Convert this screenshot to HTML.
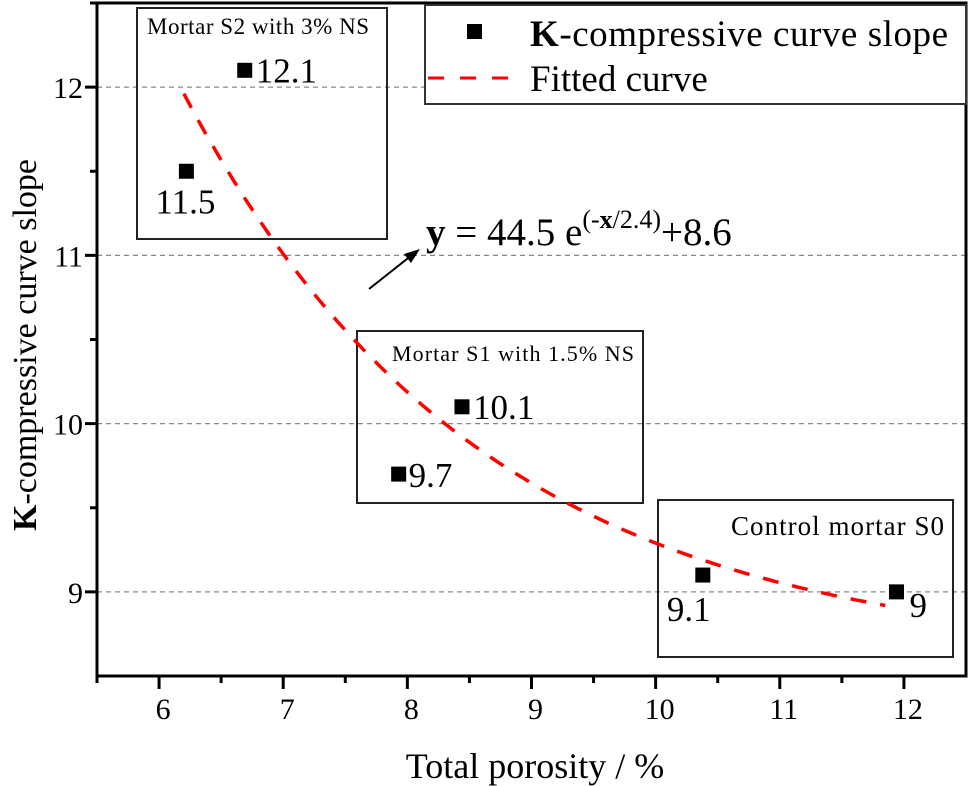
<!DOCTYPE html>
<html><head><meta charset="utf-8"><style>
body{margin:0;background:#fff}
svg{display:block;font-family:"Liberation Serif",serif}
</style></head><body>
<svg id="chart" width="972" height="786" viewBox="0 0 972 786" xmlns="http://www.w3.org/2000/svg">
<g id="grid"></g>
<g id="axes"></g>
<g id="annot">
  <rect x="137" y="8" width="250" height="231" fill="none" stroke="#222" stroke-width="2"/>
  <text x="147" y="34" font-size="23" textLength="222">Mortar S2 with 3% NS</text>
  <rect x="357" y="331" width="286" height="172" fill="none" stroke="#222" stroke-width="2"/>
  <text x="392" y="361" font-size="22" textLength="242">Mortar S1 with 1.5% NS</text>
  <rect x="658" y="500" width="295" height="157" fill="none" stroke="#222" stroke-width="2"/>
  <text x="731" y="535" font-size="27" textLength="213">Control mortar S0</text>
  <line x1="369" y1="289" x2="412" y2="255" stroke="#000" stroke-width="2"/>
  <polygon points="420,249 404,254 411,263" fill="#000"/>
  <text x="426" y="245" font-size="39"><tspan font-weight="bold">y</tspan> = 44.5 e<tspan dy="-17" font-size="26">(-<tspan font-weight="bold">x</tspan>/2.4)</tspan><tspan dy="17">+8.6</tspan></text>
</g>
<g id="series"></g>
<g>
  <rect x="425" y="5" width="541" height="99" fill="#fff" stroke="#333" stroke-width="2"/>
  <rect x="467" y="24" width="15" height="15" fill="#000"/>
  <text x="530" y="46" font-size="37" textLength="418"><tspan font-weight="bold">K</tspan>-compressive curve slope</text>
  <line x1="428" y1="78" x2="513" y2="78" stroke="#f00" stroke-width="3" stroke-dasharray="16,16"/>
  <text x="530" y="91" font-size="37">Fitted curve</text>
</g>
<text x="535" y="778" font-size="36" text-anchor="middle">Total porosity / %</text>
<text transform="translate(36,345) rotate(-90)" font-size="34" text-anchor="middle"><tspan font-weight="bold">K</tspan>-compressive curve slope</text>
</svg>
<script>
const xValues=[6.22,6.69,7.93,8.44,10.38,11.94];
const yValues=[11.5,12.1,9.7,10.1,9.1,9.0];
const pointLabels=["11.5","12.1","9.7","10.1","9.1","9"];
const xTicks=[6,7,8,9,10,11,12];
const yTicks=[9,10,11,12];
const fitA=44.5, fitB=2.4, fitC=8.6, fitStart=6.2, fitEnd=11.85;
const NS="http://www.w3.org/2000/svg";
const X0=97,X1=966,Y0=676,Y1=3,xmin=5.5,xmax=12.5,ymin=8.5,ymax=12.5;
const sx=v=>X0+(v-xmin)/(xmax-xmin)*(X1-X0);
const sy=v=>Y0-(v-ymin)/(ymax-ymin)*(Y0-Y1);
function mk(tag,attrs,parent){const e=document.createElementNS(NS,tag);for(const k in attrs)e.setAttribute(k,attrs[k]);parent.appendChild(e);return e;}
const grid=document.getElementById('grid'),axes=document.getElementById('axes'),series=document.getElementById('series');
yTicks.forEach(t=>{const l=mk('line',{x1:X0,x2:X1,y1:sy(t),y2:sy(t),stroke:'#888','stroke-width':1.3,'stroke-dasharray':'5,4'},grid);

});
const fr=mk('rect',{x:X0,y:Y1,width:X1-X0,height:Y0-Y1,fill:'none',stroke:'#000','stroke-width':3},axes);


xTicks.forEach(t=>{const x=sx(t);
const tk=mk('line',{x1:x,x2:x,y1:Y0,y2:Y0+13,stroke:'#000','stroke-width':3},axes);


const m=mk('line',{x1:sx(t-0.5),x2:sx(t-0.5),y1:Y0,y2:Y0+7,stroke:'#000','stroke-width':3},axes);


const tx=mk('text',{x:x+4,y:Y0+43,'font-size':30,'text-anchor':'middle'},axes);tx.textContent=t;

});
yTicks.forEach(t=>{const y=sy(t);
const tk=mk('line',{x1:X0-12,x2:X0,y1:y,y2:y,stroke:'#000','stroke-width':3},axes);


const m=mk('line',{x1:X0-7,x2:X0,y1:sy(t+0.5),y2:sy(t+0.5),stroke:'#000','stroke-width':3},axes);


const tx=mk('text',{x:X0-14,y:y+11,'font-size':30,'text-anchor':'end'},axes);tx.textContent=t;

});
let d='';for(let i=0;i<=100;i++){const x=fitStart+(fitEnd-fitStart)*i/100;const y=fitA*Math.exp(-x/fitB)+fitC;d+=(i?'L':'M')+sx(x).toFixed(1)+','+sy(y).toFixed(1);}
const fc=mk('path',{d:d,fill:'none',stroke:'#f00','stroke-width':3.5,'stroke-dasharray':'16,14'},series);


const offs=[[-31,42],[11,12],[10,13],[11,12],[-36,46],[13,25]];
xValues.forEach((v,i)=>{const x=sx(v),y=sy(yValues[i]);
const r=mk('rect',{x:x-7.5,y:y-7.5,width:15,height:15,fill:'#000'},series);


const t=mk('text',{x:x+offs[i][0],y:y+offs[i][1],'font-size':35},series);t.textContent=pointLabels[i];

});
</script>
</body></html>
